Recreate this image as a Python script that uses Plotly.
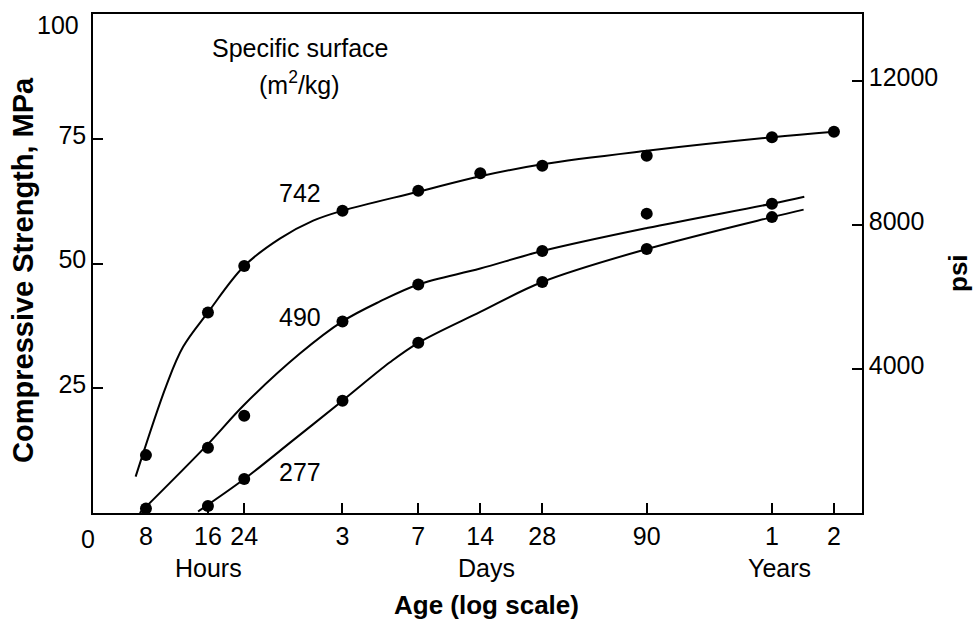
import math
import plotly.graph_objects as go

# ---------------- data (ages in days, strength in MPa) ----------------
ages_742 = [8/24, 16/24, 1, 3, 7, 14, 28, 90, 365, 730]
mpa_742 = [11.6, 40.2, 49.5, 60.6, 64.6, 68.1, 69.6, 71.6, 75.3, 76.4]

ages_490 = [8/24, 16/24, 1, 3, 7, 28, 90, 365]
mpa_490 = [0.9, 13.1, 19.5, 38.4, 45.8, 52.5, 60.0, 62.0]

ages_277 = [16/24, 1, 3, 7, 28, 90, 365]
mpa_277 = [1.4, 6.8, 22.5, 34.1, 46.3, 52.9, 59.3]

# fitted curves
curve_742_age = [0.297, 0.419, 0.505, 16/24, 1, 1.489, 2.162, 3, 7, 14, 28, 90, 365, 730]
curve_742_mpa = [7.3, 25.6, 33.3, 40.2, 49.5, 55.0, 58.6, 60.6, 64.4, 67.5, 69.9, 72.6, 75.3, 76.4]

curve_490_age = [0.311, 16/24, 1, 1.87, 3, 4.56, 7, 14, 28, 90, 365, 524]
curve_490_mpa = [0.0, 13.8, 21.7, 32.0, 38.4, 42.4, 45.8, 49.0, 52.5, 57.1, 62.0, 63.4]

curve_277_age = [0.597, 1, 1.73, 3, 5.1, 7, 14, 28, 90, 365, 520]
curve_277_mpa = [0.3, 6.8, 14.6, 22.5, 30.2, 34.1, 40.3, 46.3, 52.9, 59.3, 60.8]

# axis ticks
x_tickvals = [8/24, 16/24, 1, 3, 7, 14, 28, 90, 365, 730]
x_ticktext = ["8", "16", "24", "3", "7", "14", "28", "90", "1", "2"]
y_tickvals = [25, 50, 75, 100]
y_ticktext = ["25", "50", "75", ""]   # "100" drawn as a text below the top edge
psi_tickvals = [4000, 8000, 12000]
psi_ticktext = ["4000", "8000", "12000"]

surface_labels = ["742", "490", "277"]
label_pos = [(1.863, 64.2), (1.863, 39.2), (1.863, 8.3)]

FONT = "Liberation Sans, Arial, Helvetica, sans-serif"
FS = 25

fig = go.Figure()

for ca, cm in [(curve_742_age, curve_742_mpa),
               (curve_490_age, curve_490_mpa),
               (curve_277_age, curve_277_mpa)]:
    fig.add_trace(go.Scatter(x=ca, y=cm, mode="lines",
                             line=dict(color="black", width=2, shape="spline", smoothing=1.0),
                             showlegend=False, hoverinfo="skip"))

for a, m in [(ages_742, mpa_742), (ages_490, mpa_490), (ages_277, mpa_277)]:
    fig.add_trace(go.Scatter(x=a, y=m, mode="markers",
                             marker=dict(color="black", size=12),
                             showlegend=False))

# invisible trace to anchor the psi axis
fig.add_trace(go.Scatter(x=[1], y=[4000], yaxis="y2", mode="markers",
                         marker=dict(opacity=0), showlegend=False, hoverinfo="skip"))

def txt(x, y, text, size=FS, angle=0, xref="paper", yref="paper", xanchor="center"):
    return dict(x=x, y=y, xref=xref, yref=yref, text=text, showarrow=False,
                xanchor=xanchor, yanchor="middle", textangle=angle,
                font=dict(size=size, family=FONT, color="black"))

annotations = []
for t, (xa, ym) in zip(surface_labels, label_pos):
    annotations.append(txt(math.log10(xa), ym, t, xref="x", yref="y"))

annotations += [
    txt(-0.0151, 0.9786, "100", xanchor="right"),
    txt(0.269, 0.932, "Specific surface"),
    txt(0.269, 0.862, "(m<sup>2</sup>/kg)"),
    txt(-0.0065, -0.052, "0"),
    txt(0.1504, -0.1103, "Hours"),
    txt(0.5119, -0.1103, "Days"),
    txt(0.8929, -0.1103, "Years"),
    txt(0.5119, -0.1845, "<b>Age (log scale)</b>", size=26),
    txt(-0.0911, 0.487, "<b>Compressive Strength, MPa</b>", size=29, angle=-90),
    txt(1.1255, 0.48, "<b>psi</b>", size=26, angle=-90),
]

fig.update_layout(
    width=979, height=622,
    margin=dict(l=93, r=117, t=14, b=109, autoexpand=False),
    paper_bgcolor="white", plot_bgcolor="white",
    font=dict(family=FONT, size=FS, color="black"),
    showlegend=False,
    annotations=annotations,
    xaxis=dict(type="log", range=[-0.7342, 2.9995], automargin=False,
               tickvals=x_tickvals, ticktext=x_ticktext,
               ticks="inside", ticklen=10, tickwidth=1.5, tickcolor="black",
               showline=True, linecolor="black", linewidth=1.5, mirror=True,
               showgrid=False, zeroline=False,
               tickfont=dict(size=FS, family=FONT, color="black")),
    yaxis=dict(range=[0, 100.01], tickvals=y_tickvals, ticktext=y_ticktext,
               automargin=False,
               ticks="inside", ticklen=10, tickwidth=1.5, tickcolor="black",
               showline=True, linecolor="black", linewidth=1.5, mirror=True,
               showgrid=False, zeroline=False, ticklabelshift=-4,
               ticklabeloverflow="allow",
               tickfont=dict(size=FS, family=FONT, color="black")),
    yaxis2=dict(overlaying="y", side="right", range=[0, 13870],
                tickvals=psi_tickvals, ticktext=psi_ticktext,
                automargin=False,
                ticks="inside", ticklen=10, tickwidth=1.5, tickcolor="black",
                showline=True, linecolor="black", linewidth=1.5,
                showgrid=False, zeroline=False, ticklabelshift=-4,
                ticklabeloverflow="allow",
                tickfont=dict(size=FS, family=FONT, color="black")),
)

fig.write_html("out.html")
